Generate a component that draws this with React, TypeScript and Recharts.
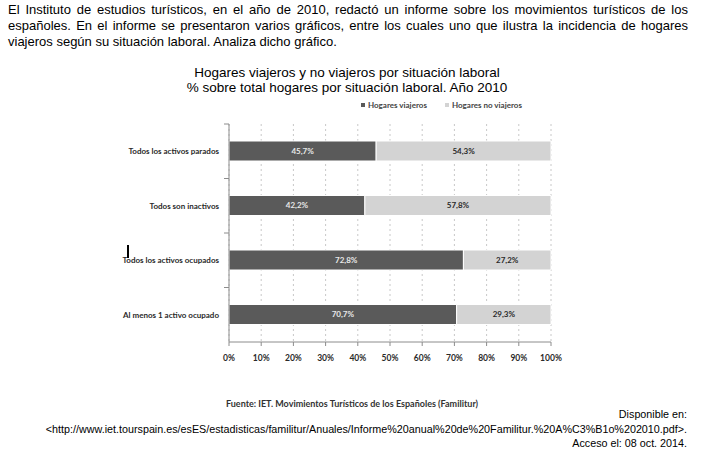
import { Bar, BarChart, CartesianGrid, LabelList, XAxis, YAxis } from "recharts";

const CATEGORIES = [
  "Todos los activos parados",
  "Todos son inactivos",
  "Todos los activos ocupados",
  "Al menos 1 activo ocupado",
];
const VIAJEROS = [45.7, 42.2, 72.8, 70.7];
const NO_VIAJEROS = [54.3, 57.8, 27.2, 29.3];
const X_TICKS = [0, 10, 20, 30, 40, 50, 60, 70, 80, 90, 100];

const DARK = "#5a5a5a";
const LIGHT = "#d3d3d3";
const CHART_FONT = "Lato, 'Open Sans', sans-serif";
const ARIAL = "'Liberation Sans', Arial, sans-serif";

// plot box inside the 726x449 picture
const PLOT_TOP = 124;
const PLOT_BOTTOM = 342;
const PLOT_RIGHT = 551;
const PLOT_LEFT = 229;
const X_AXIS_H = 28;
const HALF_BAND = (PLOT_BOTTOM - PLOT_TOP) / CATEGORIES.length / 2;

const data = CATEGORIES.map((name, i) => ({
  name,
  viajeros: VIAJEROS[i],
  noViajeros: NO_VIAJEROS[i],
}));

const pct = (v: any) => `${Number(v).toFixed(1).replace(".", ",")}%`;

function CategoryTick({ x, y, payload }: any) {
  return (
    <g>
      <line x1={x + 3} x2={x + 8} y1={y - HALF_BAND} y2={y - HALF_BAND} stroke="#8c8c8c" />
      <text x={x - 2} y={y} dy={3} textAnchor="end" fontSize={8} fontWeight={700} fill="#2a2a2a" fontFamily={CHART_FONT}>
        {payload.value}
      </text>
    </g>
  );
}

function LegendBox() {
  const item = (color: string, label: string, left: number) => (
    <div style={{ position: "absolute", left, top: 0, display: "flex", alignItems: "center", gap: 3 }}>
      <span style={{ width: 4, height: 4, background: color, display: "inline-block" }} />
      <span>{label}</span>
    </div>
  );
  return (
    <div style={{ position: "absolute", left: 361, top: 100, fontSize: 8, fontWeight: 700, color: "#444", fontFamily: CHART_FONT, width: 200, height: 12 }}>
      {item(DARK, "Hogares viajeros", 0)}
      {item(LIGHT, "Hogares no viajeros", 84)}
    </div>
  );
}

export default function App() {
  return (
    <div style={{ position: "absolute", left: 0, top: 0, width: 726, height: 449, background: "#fff", overflow: "hidden", color: "#000" }}>
      <div style={{ position: "absolute", left: 8, top: 2, width: 680, fontFamily: ARIAL, fontSize: 13, lineHeight: "16px" }}>
        <div style={{ textAlign: "justify", textAlignLast: "justify" }}>
          El Instituto de estudios turísticos, en el año de 2010, redactó un informe sobre los movimientos turísticos de los
        </div>
        <div style={{ textAlign: "justify", textAlignLast: "justify" }}>
          españoles. En el informe se presentaron varios gráficos, entre los cuales uno que ilustra la incidencia de hogares
        </div>
        <div>viajeros según su situación laboral. Analiza dicho gráfico.</div>
      </div>

      <div style={{ position: "absolute", left: 147, top: 65, width: 400, textAlign: "center", fontFamily: ARIAL, fontSize: 13.5, lineHeight: "15px" }}>
        <div>Hogares viajeros y no viajeros por situación laboral</div>
        <div>% sobre total hogares por situación laboral. Año 2010</div>
      </div>

      <LegendBox />

      <div style={{ position: "absolute", left: 0, top: 0 }}>
        <BarChart
          width={726}
          height={449}
          data={data}
          layout="vertical"
          barSize={20}
          margin={{ top: PLOT_TOP, right: 726 - PLOT_RIGHT, bottom: 449 - PLOT_BOTTOM - X_AXIS_H, left: 0 }}
        >
          <CartesianGrid horizontal={false} stroke="#c8c8c8" strokeDasharray="2 3" />
          <XAxis
            type="number"
            domain={[0, 100]}
            ticks={X_TICKS}
            interval={0}
            height={X_AXIS_H}
            tickFormatter={(v) => `${v}%`}
            axisLine={{ stroke: "#8c8c8c" }}
            tickLine={{ stroke: "#8c8c8c" }}
            tickSize={4}
            tick={{ fontSize: 8.5, fontWeight: 700, fill: "#2a2a2a", fontFamily: CHART_FONT }}
            tickMargin={9}
          />
          <YAxis
            type="category"
            dataKey="name"
            width={PLOT_LEFT}
            axisLine={{ stroke: "#8c8c8c" }}
            tickLine={false}
            tick={<CategoryTick />}
            interval={0}
          />
          <Bar dataKey="viajeros" stackId="a" fill={DARK} stroke="#fff" strokeWidth={1} isAnimationActive={false}>
            <LabelList dataKey="viajeros" position="center" formatter={pct} fill="#e8e8e8" fontSize={8} fontWeight={700} fontFamily={CHART_FONT} />
          </Bar>
          <Bar dataKey="noViajeros" stackId="a" fill={LIGHT} stroke="#fff" strokeWidth={1} isAnimationActive={false}>
            <LabelList dataKey="noViajeros" position="center" formatter={pct} fill="#2a2a2a" fontSize={8} fontWeight={700} fontFamily={CHART_FONT} />
          </Bar>
        </BarChart>
      </div>

      <div style={{ position: "absolute", left: 127, top: 245, width: 2, height: 13, background: "#000" }} />

      <div style={{ position: "absolute", left: 2, top: 398, width: 700, textAlign: "center", fontFamily: CHART_FONT, fontSize: 9, fontWeight: 700, color: "#333" }}>
        Fuente: IET. Movimientos Turísticos de los Españoles (Familitur)
      </div>

      <div style={{ position: "absolute", right: 39, top: 407, width: 680, textAlign: "right", fontFamily: ARIAL, fontSize: 10.75, lineHeight: "14.5px" }}>
        <div>Disponible en:</div>
        <div>&lt;http://www.iet.tourspain.es/esES/estadisticas/familitur/Anuales/Informe%20anual%20de%20Familitur.%20A%C3%B1o%202010.pdf&gt;.</div>
        <div>Acceso el: 08 oct. 2014.</div>
      </div>
    </div>
  );
}
